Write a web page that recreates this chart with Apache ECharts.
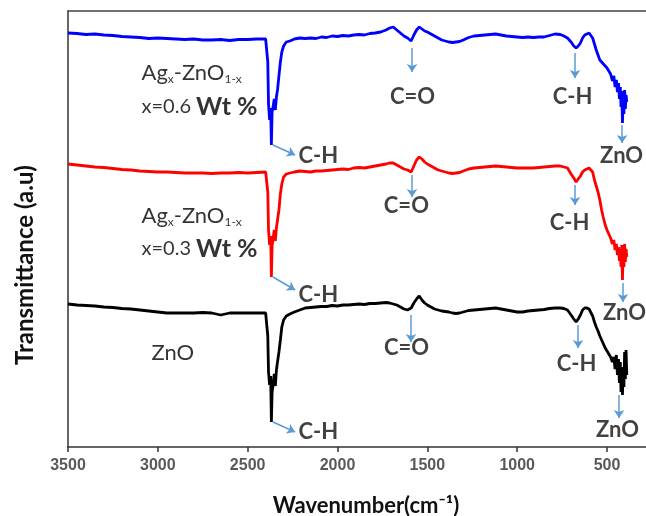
<!DOCTYPE html>
<html>
<head>
<meta charset="utf-8">
<script src="https://cdn.jsdelivr.net/npm/echarts@6/dist/echarts.min.js"></script>
<style>html,body{margin:0;padding:0;background:#fff}#c{width:646px;height:516px}</style>
</head>
<body>
<div id="c"></div>
<script>
// Wavenumber (cm^-1)
const wavenumber = [3500,3450,3400,3350,3300,3250,3200,3150,3100,3050,3000,2950,2900,2850,2800,2750,2700,2650,2600,2550,2500,2450,2400,
 2392,2388,2384,2378,2372,2368,2364,2358,2352,2346,2340,2334,2326,2318,2310,2300,2285,2265,2240,2210,
 2180,2150,2120,2090,2060,2030,2000,1970,1940,1910,1880,1850,1820,1790,1760,1730,1710,1690,1670,1650,1630,1610,1590,1575,1560,1545,1530,1515,1500,1480,1460,1440,1420,1400,1380,1360,1340,1320,1300,1270,1240,1210,1180,1150,1120,1090,1060,1030,1000,970,940,910,880,850,820,790,760,740,720,
 700,685,672,660,648,636,624,612,600,590,580,570,560,550,540,530,520,510,500,490,480,470,462,455,448,442,436,431,426,422,418,414,410,406,402,398,394,390];

// Transmittance (a.u.), offset spectra
const ag06 = [414,413.5,412.5,413,412,411.5,410.5,410,409.5,408.5,409,408.5,408,407.5,408,407,407,407.5,406.5,407.5,407.5,408,408,
 408,385,343,327,339,302,335,341,348,337,350,357,371,385,395,401,405,406,408,409,
 408.5,409,408.5,410,409.5,411,410.5,411.5,411,412,412.5,412,413.5,414,415,417,419,420,417,414,411,409,406,412,417,420,418,416,415,413,411,409,407,406,405,404.5,405,405.5,407,409.5,411,411.5,412,412.5,413,412,411,410.5,410,409.5,410,409.5,410,410,411.5,413,412.5,411,409,
 405,401,399,401,404,409,412,413,414,414,409,403,397,392,387,385,383,381,379,376,373,366,371,360,367,355,364,348,360,340,356,324,350,333,357,338,352,345];

const ag03 = [283,282,281,280,279.5,278.5,277.5,277,276,275.5,275,275,274.5,274,274,274,273.5,274,274,274.5,274,274.5,275,
 275,255,217,202,211,170,201,209,217,206,219,227,237,253,263,270,273,274,275,276,
 275.5,275,276,276,276.5,277,277.5,278,277.5,279,279.5,279,280,281,282,283,284,284,282,280,278,277,275,281,287,290,288,285,283,281,279,277,276,275,274,273.5,274,274.5,276,278,279,279.5,280,280.5,281,280.5,280,279.5,279,279,279,279,279.5,280,280.5,281,281,280,279,
 273,269,265,268,271,275,277,278,279,279,275,267,261,255,247,237,229,222,217,213,209,203,207,197,203,192,200,186,198,180,202,167,197,180,203,185,198,190];

const zno = [143,142,141.5,141,140,139.5,138.5,138,137,136,135,134,134,134,134,134.5,134,132,134,134,134,134,134,
 133,111,75,62,71,25,55,63,73,61,77,85,95,107,120,127,131,133,135,137,
 139,139.5,140,140.5,140.5,141.5,141,142,142,142.5,143,142.5,143.5,143.5,144,144.5,144,143,142,140,138,137,139,144,148,151,147,144,142,140,138,137,136,135.5,135,134,133.5,134,135,136.5,137,137.5,138,138.5,139,138,137,136,135,135,136,136.5,137,137.5,138.5,139,139,138.5,137,
 132,128,125,128,132,137,139,139,138,137,131,125,120,116,111,107,103,99,96,93,90,85,90,78,92,72,88,64,85,55,80,52,78,60,95,68,97,72];

const xTicks = [3500,3000,2500,2000,1500,1000,500];

// Peak annotations (data coordinates)
const peakText = ['C-H','C=O','C-H','ZnO','C-H','C=O','C-H','ZnO','C-H','C=O','C-H','ZnO'];
const peakLabelWN = [2215,1580,689,416,2215,1614,706,400,2215,1613,667,439];
const peakLabelT  = [291,350,350,291,152,241,224,134,15,99,83,17];
const arrowFrom = [[2359,302],[1585,399],[678,394],[416,322],[2359,170],[1585,272],[678,262],[411,164],[2359,25],[1591,132],[661,122],[433,52]];
const arrowTo   = [[2236,292],[1585,375],[678,369],[416,304],[2236,157],[1585,250],[678,242],[411,145],[2236,15],[1591,105],[661,99],[433,29]];

// Sample labels
const sampleText = ['{a|Ag}{s|x}{a|-ZnO}{s|1-x}','{n|x=0.6 }{w|Wt %}','{a|Ag}{s|x}{a|-ZnO}{s|1-x}','{n|x=0.3 }{w|Wt %}','{z|ZnO}'];
const sampleWN = [3088,3088,3088,3088,3032];
const sampleT  = [374,340,231,198,94];

const chart = echarts.init(document.getElementById('c'), null, {renderer:'canvas'});
const FONT = 'Lato';
const richStyles = {
  a:{fontFamily:FONT,fontSize:22,color:'#000',lineHeight:26,verticalAlign:'middle'},
  s:{fontFamily:FONT,fontSize:12,color:'#000',lineHeight:26,verticalAlign:'bottom'},
  n:{fontFamily:FONT,fontSize:20,color:'#000',lineHeight:26},
  w:{fontFamily:FONT,fontSize:25,fontWeight:'bold',color:'#000',lineHeight:26},
  z:{fontFamily:FONT,fontSize:22,color:'#000',lineHeight:26}
};

const mk = (arr)=> wavenumber.map((w,i)=>[w, arr[i]]);

const labelData = [];
peakText.forEach((t,i)=>{
  const left = (t==='C-H' && peakLabelWN[i]===2215);
  labelData.push({value:[peakLabelWN[i], peakLabelT[i]], label:{formatter:t, align: left?'left':'center'}});
});
const sampleData = sampleText.map((t,i)=>({value:[sampleWN[i], sampleT[i]], label:{formatter:t}}));

const arrowData = arrowFrom.map((f,i)=>({coords:[f, arrowTo[i]]}));

chart.setOption({
  animation:false,
  backgroundColor:'#fff',
  grid:{left:68, right:0, top:11, bottom:69, containLabel:false, outerBoundsMode:'none'},
  xAxis:[{
    type:'value', min:283, max:3500, inverse:true,
    name:'Wavenumber(cm\u207B\u00B9)', nameLocation:'middle', nameGap:48,
    nameTextStyle:{fontFamily:FONT, fontSize:22, fontWeight:'bold', color:'#111', padding:[0,0,0,18]},
    axisLine:{show:true, lineStyle:{color:'#333', width:1.5}},
    axisTick:{show:true, length:5, lineStyle:{color:'#333', width:1.5}, customValues:xTicks},
    axisLabel:{fontFamily:'Liberation Sans', fontSize:16, fontWeight:'bold', color:'#595959', margin:11, customValues:xTicks, formatter:(v)=>String(v)},
    splitLine:{show:false}
  },{
    type:'value', min:283, max:3500, inverse:true, position:'top',
    axisLine:{show:true, lineStyle:{color:'#444', width:1.5}},
    axisTick:{show:false}, axisLabel:{show:false}, splitLine:{show:false}
  }],
  yAxis:{
    type:'value', min:0, max:436,
    axisLine:{show:true, lineStyle:{color:'#333', width:1.5}},
    axisTick:{show:false}, axisLabel:{show:false}, splitLine:{show:false}
  },
  graphic:[{
    type:'text', x:25, y:265, rotation:Math.PI/2,
    style:{text:'Transmittance (a.u)', fontFamily:FONT, fontSize:24, fontWeight:'bold', fill:'#111', align:'center', verticalAlign:'middle'}
  }],
  series:[
    {type:'line', name:'Ag0.6', data:mk(ag06), showSymbol:false, lineStyle:{color:'#0000ff', width:2.8}, itemStyle:{color:'#0000ff'}, z:3},
    {type:'line', name:'Ag0.3', data:mk(ag03), showSymbol:false, lineStyle:{color:'#ff0000', width:2.8}, itemStyle:{color:'#ff0000'}, z:3},
    {type:'line', name:'ZnO', data:mk(zno), showSymbol:false, lineStyle:{color:'#000000', width:2.8}, itemStyle:{color:'#000'}, z:3},
    {type:'lines', coordinateSystem:'cartesian2d', data:arrowData, symbol:['none','arrow'], symbolSize:8,
      lineStyle:{color:'#5b9bd5', width:1.5, opacity:1}, z:4},
    {type:'scatter', data:labelData, symbolSize:1, itemStyle:{color:'rgba(0,0,0,0)'}, silent:true, z:5,
      label:{show:true, position:[0,0], verticalAlign:'middle', fontFamily:FONT, fontSize:22, fontWeight:'bold', color:'#111'}},
    {type:'scatter', data:sampleData, symbolSize:1, itemStyle:{color:'rgba(0,0,0,0)'}, silent:true, z:5,
      label:{show:true, position:[0,0], align:'left', verticalAlign:'middle', rich:richStyles}}
  ]
});
</script>
</body>
</html>
